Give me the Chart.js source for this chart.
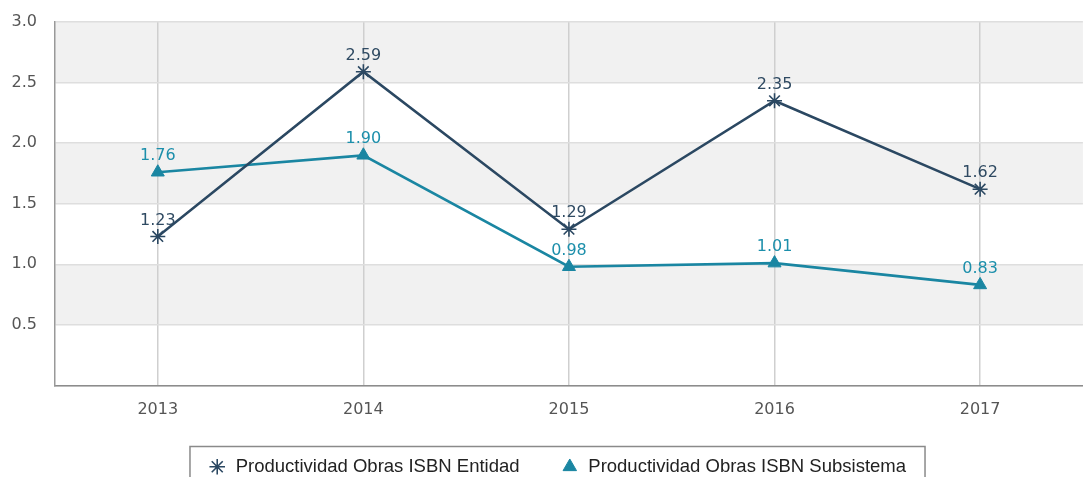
<!DOCTYPE html>
<html>
<head>
<meta charset="utf-8">
<script src="https://cdn.jsdelivr.net/npm/chart.js@4.4.1/dist/chart.umd.min.js"></script>
<style>
  html, body { margin: 0; padding: 0; background: #fff; overflow: hidden; }
  #wrap { position: relative; width: 1092px; height: 486px; }
</style>
</head>
<body>
<div id="wrap"><canvas id="chart"></canvas></div>
<script>
// Data
const years = ['2013', '2014', '2015', '2016', '2017'];
const entidad = [1.23, 2.59, 1.29, 2.35, 1.62];
const subsistema = [1.76, 1.90, 0.98, 1.01, 0.83];
const seriesNames = ['Productividad Obras ISBN Entidad', 'Productividad Obras ISBN Subsistema'];
const yTicks = [0, 0.5, 1.0, 1.5, 2.0, 2.5, 3.0];

const darkColor = '#2b4862';
const tealColor = '#1a86a2';

// grey/white bands between the horizontal grid lines
const bandsPlugin = {
    id: 'bands',
    beforeDraw(chart) {
        const { ctx, chartArea, scales } = chart;
        const y = scales.y;
        ctx.save();
        for (let i = 0; i < yTicks.length - 1; i++) {
            if (i % 2 === 0) continue;
            const top = y.getPixelForValue(yTicks[i + 1]);
            const bottom = y.getPixelForValue(yTicks[i]);
            ctx.fillStyle = '#f1f1f1';
            ctx.fillRect(chartArea.left, top, chartArea.right - chartArea.left, bottom - top);
        }
        ctx.restore();
    }
};

// value labels above each point
const valueLabels = {
    id: 'valueLabels',
    afterDatasetsDraw(chart) {
        const ctx = chart.ctx;
        ctx.save();
        ctx.font = '16px "DejaVu Sans"';
        ctx.textAlign = 'center';
        ctx.textBaseline = 'middle';
        chart.data.datasets.forEach((ds, i) => {
            const meta = chart.getDatasetMeta(i);
            ctx.fillStyle = ds.labelColor;
            meta.data.forEach((pt, j) => {
                ctx.fillText(ds.data[j].toFixed(2), pt.x, pt.y - 16);
            });
        });
        ctx.restore();
    }
};

// legend sits a little right of the canvas centre, inside a frame
const legendFrame = {
    id: 'legendFrame',
    afterLayout(chart) {
        chart.legend.left += 11;
        chart.legend.right += 11;
    },
    afterDraw(chart) {
        const boxes = chart.legend.legendHitBoxes;
        if (!boxes || !boxes.length) return;
        let minX = Infinity, maxX = -Infinity, minY = Infinity;
        boxes.forEach(b => {
            minX = Math.min(minX, b.left);
            maxX = Math.max(maxX, b.left + b.width);
            minY = Math.min(minY, b.top);
        });
        const ctx = chart.ctx;
        ctx.save();
        ctx.strokeStyle = '#8a8a8a';
        ctx.lineWidth = 1.5;
        ctx.strokeRect(minX - 18, minY - 11, maxX - minX + 37, 60);
        ctx.restore();
    }
};

new Chart(document.getElementById('chart'), {
    type: 'line',
    data: {
        labels: years,
        datasets: [{
            label: seriesNames[0],
            data: entidad,
            borderColor: darkColor,
            backgroundColor: darkColor,
            labelColor: '#2f4a62',
            borderWidth: 2.5,
            pointStyle: 'star',
            pointRadius: 7.5,
            pointBorderWidth: 1.6,
            tension: 0
        }, {
            label: seriesNames[1],
            data: subsistema,
            borderColor: tealColor,
            backgroundColor: tealColor,
            labelColor: '#1c8fab',
            borderWidth: 2.7,
            pointStyle: 'triangle',
            pointRadius: 7.5,
            pointBorderWidth: 1,
            tension: 0
        }]
    },
    options: {
        responsive: true,
        maintainAspectRatio: false,
        animation: false,
        layout: { padding: { left: 0, top: 22, right: 0, bottom: 0 } },
        plugins: {
            tooltip: { enabled: false },
            legend: {
                position: 'bottom',
                labels: {
                    usePointStyle: true,
                    boxHeight: 11,
                    padding: 41,
                    color: '#222',
                    font: { family: '"Liberation Sans", Arial', size: 18.5 }
                }
            }
        },
        scales: {
            x: {
                offset: true,
                grid: { offset: false, color: '#cfcfcf', lineWidth: 1.5, drawTicks: false },
                border: { color: '#8c8c8c', width: 1.5 },
                ticks: { color: '#555', padding: 15, font: { family: '"DejaVu Sans"', size: 16 } },
                afterFit(scale) { scale.height = 31; }
            },
            y: {
                min: 0,
                max: 3,
                afterBuildTicks(scale) {
                    scale.ticks = yTicks.map(v => ({ value: v }));
                },
                grid: { color: '#dedede', lineWidth: 1.5, drawTicks: false },
                border: { color: '#999', width: 1.5 },
                ticks: {
                    color: '#555',
                    padding: 18,
                    font: { family: '"DejaVu Sans"', size: 16 },
                    callback: v => v === 0 ? '' : v.toFixed(1)
                },
                afterFit(scale) {
                    scale.width = 55;
                    scale.paddingTop = 0;
                    scale.paddingBottom = 0;
                }
            }
        }
    },
    plugins: [bandsPlugin, valueLabels, legendFrame]
});
</script>
</body>
</html>
